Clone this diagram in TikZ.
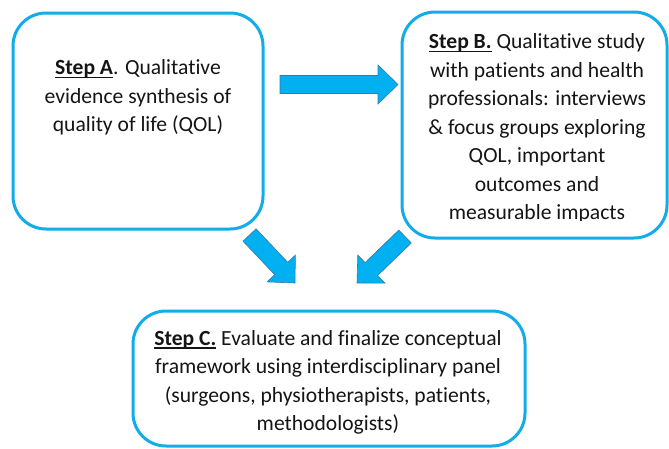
\documentclass[tikz,border=0pt]{standalone}
\usepackage{fontspec}
\setmainfont{Carlito}[Ligatures={NoCommon,NoContextual}]
\usetikzlibrary{calc}
\definecolor{boxblue}{HTML}{12ACEA}
\definecolor{arrowfill}{HTML}{00B0F0}
\definecolor{arrowline}{HTML}{3A78B0}
\definecolor{txt}{HTML}{151515}
\newcommand\stepul[1]{{\setbox0\hbox{\textbf{#1}}\rlap{\rule[-3.4pt]{\wd0}{1.4pt}}\box0}}
\newcommand\blockarrow[3]{% tail, tip, prefix
  \coordinate (#3h) at ($(#2)!20pt!(#1)$);
  \draw[blockarrowstyle]
    ($(#1)!9pt!90:(#2)$) -- ($(#3h)!9pt!-90:(#1)$) -- ($(#3h)!19.5pt!-90:(#1)$)
    -- (#2) -- ($(#3h)!19.5pt!90:(#1)$) -- ($(#3h)!9pt!90:(#1)$)
    -- ($(#1)!9pt!-90:(#2)$) -- cycle;}
\tikzset{
  stepbox/.style={draw=boxblue, line width=3pt, rounded corners=33pt, fill=white, inner sep=0pt},
  steptext/.style={text=txt, align=center, inner sep=0pt,
    font=\fontsize{21.6}{28.5}\selectfont},
  blockarrowstyle/.style={fill=arrowfill, draw=arrowline, line width=0.6pt, line join=miter}
}
\begin{document}
\begin{tikzpicture}[x=1pt,y=-1pt]
\useasboundingbox[fill=white] (0,0) rectangle (669,448);
% boxes
\node[stepbox, minimum width=250pt, minimum height=216pt] (A) at (138,121) {};
\node[stepbox, minimum width=265pt, minimum height=226pt] (B) at (534.5,125) {};
\node[stepbox, minimum width=392pt, minimum height=135pt] (C) at (329,378.5) {};
% texts
\node[steptext] (At) at (138,97.5) {\stepul{Step A}. Qualitative\\evidence synthesis of\\quality of life (QOL)};
\begin{scope}
\clip (402,12) rectangle (667,220);
\node[steptext] (Bt) at (537,128.5) {\stepul{Step B.} Qualitative study\\with patients and health\\professionals: interviews\\\& focus groups exploring\\QOL, important\\outcomes and\\measurable impacts};
\end{scope}
\node[steptext] (Ct) at (328,382.5) {\stepul{Step C.} Evaluate and finalize conceptual\\framework using interdisciplinary panel\\(surgeons, physiotherapists, patients,\\methodologists)};
% arrows
\coordinate (r1) at (280,84.5);
\coordinate (r2) at (398,84.5);
\coordinate (d1) at (249.5,235);
\coordinate (d2) at (295,283);
\coordinate (e1) at (405,236.5);
\coordinate (e2) at (357,283);
\blockarrow{r1}{r2}{ra}
\blockarrow{d1}{d2}{da}
\blockarrow{e1}{e2}{ea}
\end{tikzpicture}
\end{document}
